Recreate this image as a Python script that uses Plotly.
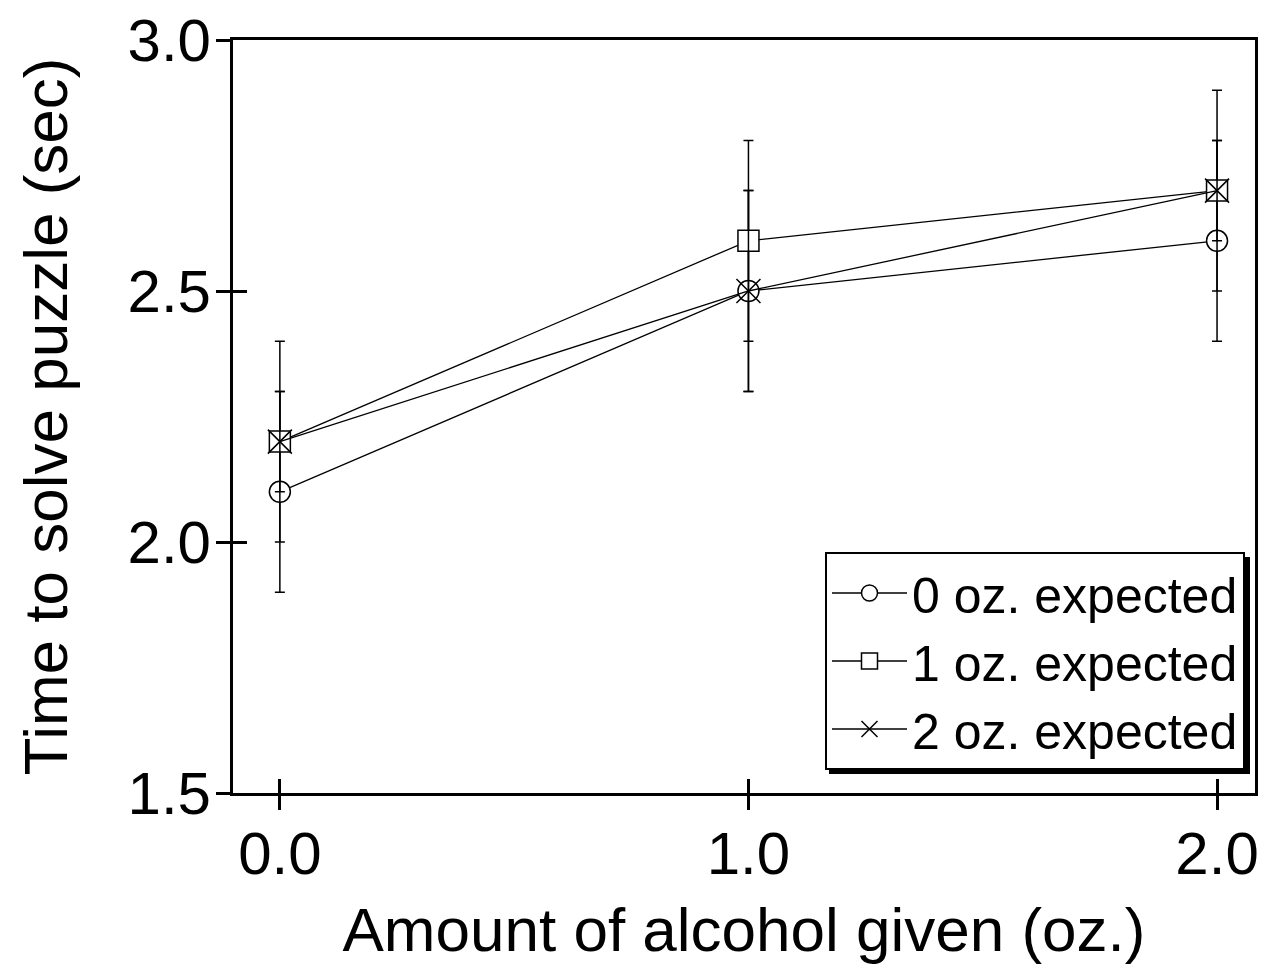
import plotly.graph_objects as go

alcohol_given = [0.0, 1.0, 2.0]
series_names = ["0 oz. expected", "1 oz. expected", "2 oz. expected"]
mean_0oz = [2.1, 2.5, 2.6]
mean_1oz = [2.2, 2.6, 2.7]
mean_2oz = [2.2, 2.5, 2.7]
err_0oz = [0.2, 0.2, 0.2]
err_1oz = [0.1, 0.2, 0.1]
err_2oz = [0.2, 0.2, 0.2]
x_tick_vals = [0.0, 1.0, 2.0]
x_tick_text = ["0.0", "1.0", "2.0"]
y_tick_vals = [1.5, 2.0, 2.5, 3.0]
y_tick_text = ["1.5", "2.0", "2.5", "3.0"]

FONT = "Liberation Sans, Arial, Helvetica, sans-serif"
symbols = ["circle", "square", "x-thin-open"]
sizes = [21, 21, 24]
fills = ["white", "white", "black"]
means = [mean_0oz, mean_1oz, mean_2oz]
errs = [err_0oz, err_1oz, err_2oz]

fig = go.Figure()
for name, m, e, sym, sz, fc in zip(series_names, means, errs, symbols, sizes, fills):
    fig.add_trace(go.Scatter(
        x=alcohol_given, y=m, name=name, mode="lines+markers",
        line=dict(color="black", width=1.3),
        marker=dict(symbol=sym, size=sz, color=fc,
                    line=dict(color="black", width=1.5)),
        error_y=dict(type="data", array=e, visible=True, color="black",
                     thickness=1.5, width=5),
    ))

# invisible trace to activate the overlay axes that carry the inner half of the ticks
fig.add_trace(go.Scatter(
    x=alcohol_given, y=mean_0oz, xaxis="x2", yaxis="y2", mode="markers",
    marker=dict(opacity=0), showlegend=False, hoverinfo="skip",
))

xr = [-0.1, 2.081]
yr = [1.5, 3.0]
W, H = 1273, 973
L, R, T, B = 233, 18, 40, 180
pw, ph = W - L - R, H - T - B

leg_right, leg_top = 1245, 552
leg_w, leg_h = 421, 217

fig.update_layout(
    width=W, height=H,
    margin=dict(l=L, r=R, t=T, b=B, autoexpand=False),
    paper_bgcolor="white", plot_bgcolor="white",
    font=dict(family=FONT, color="black"),
    showlegend=True,
    legend=dict(
        x=(leg_right - L) / pw, xanchor="right",
        y=(H - B - leg_top) / ph, yanchor="top",
        bgcolor="white", bordercolor="black", borderwidth=2,
        font=dict(size=50, family=FONT), itemwidth=75,
        tracegroupgap=0,
    ),
    xaxis=dict(
        range=xr, tickvals=x_tick_vals, ticktext=x_tick_text,
        ticks="outside", ticklen=14, tickwidth=3, tickcolor="black",
        showline=True, linewidth=3, linecolor="black", mirror=True,
        showgrid=False, zeroline=False, automargin=True,
        tickfont=dict(size=60, family=FONT), ticklabelstandoff=-8,
        title=dict(text="Amount of alcohol given (oz.)", font=dict(size=62, family=FONT), standoff=22),
    ),
    yaxis=dict(
        range=yr, tickvals=y_tick_vals, ticktext=y_tick_text,
        ticks="outside", ticklen=14, tickwidth=3, tickcolor="black",
        showline=True, linewidth=3, linecolor="black", mirror=True,
        showgrid=False, zeroline=False, automargin=True,
        tickfont=dict(size=60, family=FONT), ticklabelstandoff=-7,
        title=dict(text="Time to solve puzzle (sec)", font=dict(size=62, family=FONT), standoff=40),
    ),
    xaxis2=dict(
        range=xr, overlaying="x", anchor="y2", tickvals=x_tick_vals,
        ticks="inside", ticklen=14, tickwidth=3, tickcolor="black",
        showticklabels=False, showline=False, showgrid=False, zeroline=False,
    ),
    yaxis2=dict(
        range=yr, overlaying="y", anchor="x2", tickvals=y_tick_vals,
        ticks="inside", ticklen=14, tickwidth=3, tickcolor="black",
        showticklabels=False, showline=False, showgrid=False, zeroline=False,
    ),
)

# legend drop shadow
fig.add_shape(type="rect", xref="paper", yref="paper",
              x0=(leg_right - leg_w + 5 - L) / pw, x1=(leg_right + 5 - L) / pw,
              y0=(H - B - (leg_top + leg_h + 5)) / ph, y1=(H - B - (leg_top + 5)) / ph,
              fillcolor="black", line=dict(width=0), layer="above")

fig.write_html("out.html", config={"displayModeBar": False},
               post_script="document.body.style.margin='0';")
